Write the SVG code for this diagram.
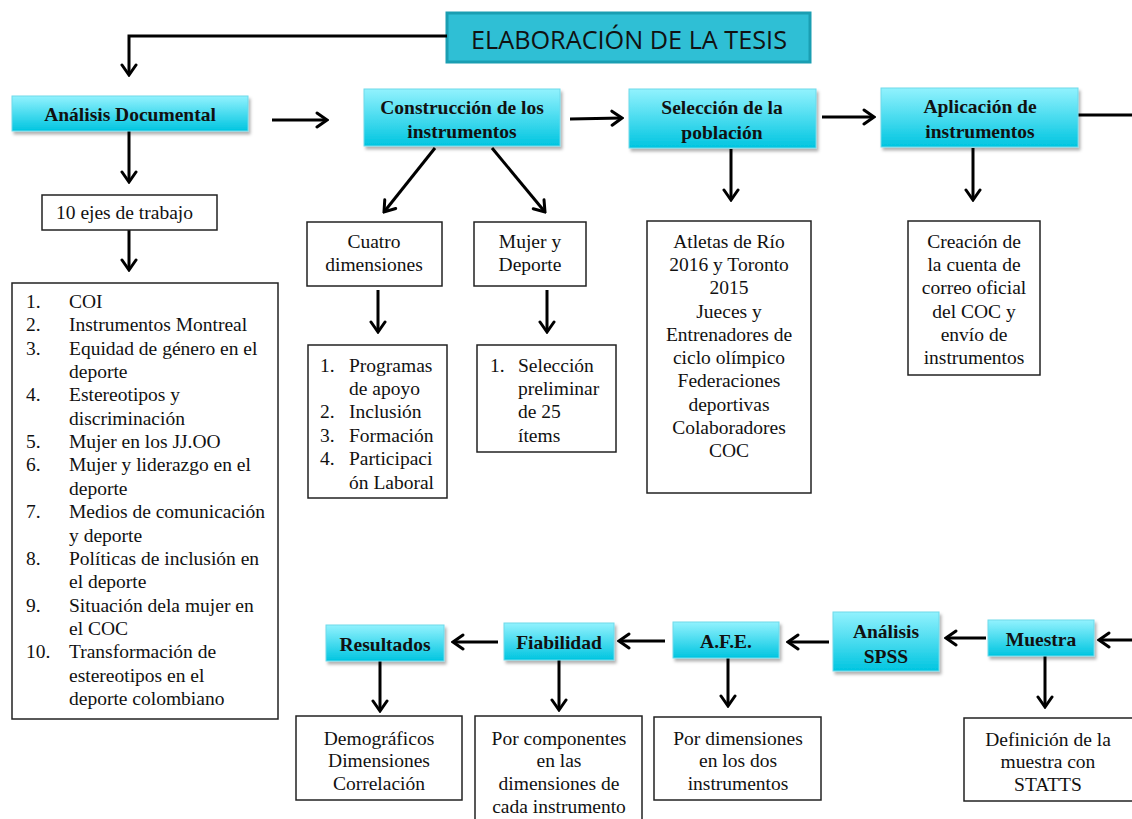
<svg xmlns="http://www.w3.org/2000/svg" width="1132" height="819" viewBox="0 0 1132 819">
<defs>
<linearGradient id="blue" x1="0" y1="0" x2="0" y2="1">
<stop offset="0" stop-color="#92f2fe"/>
<stop offset="1" stop-color="#00c5e0"/>
</linearGradient>
<filter id="sh" x="-10%" y="-20%" width="130%" height="150%">
<feDropShadow dx="2" dy="3" stdDeviation="1.5" flood-color="#000" flood-opacity="0.3"/>
</filter>
<marker id="arr" viewBox="-13 -9 15 18" refX="0" refY="0" markerWidth="15" markerHeight="18" markerUnits="userSpaceOnUse" orient="auto">
<path d="M-10,-7 L0,0 L-10,7" fill="none" stroke="#000" stroke-width="3" stroke-linecap="round" stroke-linejoin="miter"/>
</marker>
</defs>
<style>
.bn{fill:url(#blue);stroke:#6fd9ea;stroke-width:1;filter:url(#sh)}
.wb{fill:#fff;stroke:#222;stroke-width:1.5}
.bt{font-family:"Liberation Serif","Times New Roman",serif;font-weight:bold;font-size:19.5px;fill:#111;text-anchor:middle}
.t{font-family:"Liberation Serif","Times New Roman",serif;font-size:19.5px;fill:#111}
.c{text-anchor:middle}
.cn line,.cn path{stroke:#000;stroke-width:3;fill:none}
.a{marker-end:url(#arr)}
</style>
<rect width="1132" height="819" fill="#fff"/>

<g id="title">
<rect x="447" y="13" width="363" height="49" fill="#2fbfd5" stroke="#1a9eb2" stroke-width="3"/>
<text x="629" y="49" font-family="'Open Sans','Liberation Sans',sans-serif" font-size="25" fill="#111" text-anchor="middle" textLength="316" lengthAdjust="spacingAndGlyphs">ELABORACIÓN DE LA TESIS</text>
</g>

<g class="cn">
<path class="a" d="M447,36 L129,36 L129,75"/>
<line class="a" x1="272" y1="120" x2="327" y2="120"/>
<line class="a" x1="570" y1="119" x2="622" y2="118"/>
<line class="a" x1="822" y1="117" x2="874" y2="117"/>
<line x1="1078" y1="115" x2="1132" y2="115"/>
<line class="a" x1="129" y1="131" x2="129" y2="182"/>
<line class="a" x1="129" y1="230" x2="129" y2="270"/>
<line class="a" x1="435" y1="148" x2="384" y2="212"/>
<line class="a" x1="492" y1="148" x2="545" y2="212"/>
<line class="a" x1="378" y1="290" x2="378" y2="332"/>
<line class="a" x1="547" y1="290" x2="547" y2="332"/>
<line class="a" x1="731" y1="149" x2="731" y2="200"/>
<line class="a" x1="973" y1="148" x2="973" y2="200"/>
<line class="a" x1="1132" y1="640" x2="1099" y2="640"/>
<line class="a" x1="986" y1="638" x2="946" y2="638"/>
<line class="a" x1="829" y1="642" x2="788" y2="642"/>
<line class="a" x1="665" y1="641" x2="619" y2="641"/>
<line class="a" x1="498" y1="642" x2="453" y2="642"/>
<line class="a" x1="380" y1="661" x2="380" y2="711"/>
<line class="a" x1="559" y1="660" x2="559" y2="710"/>
<line class="a" x1="728" y1="658" x2="728" y2="706"/>
<line class="a" x1="1045" y1="656" x2="1045" y2="707"/>
</g>

<g id="analisis-documental">
<rect class="bn" x="12" y="96" width="236" height="35"/>
<text class="bt" x="130" y="121">Análisis Documental</text>
</g>
<g id="construccion">
<rect class="bn" x="364" y="89" width="196" height="57"/>
<text class="bt" x="462" y="114">Construcción de los</text>
<text class="bt" x="462" y="138">instrumentos</text>
</g>
<g id="seleccion">
<rect class="bn" x="629" y="89" width="187" height="59"/>
<text class="bt" x="722" y="114">Selección de la</text>
<text class="bt" x="722" y="139">población</text>
</g>
<g id="aplicacion">
<rect class="bn" x="881" y="88" width="197" height="59"/>
<text class="bt" x="980" y="113">Aplicación de</text>
<text class="bt" x="980" y="138">instrumentos</text>
</g>

<g id="ejes">
<rect class="wb" x="42" y="195" width="175" height="35"/>
<text class="t" x="56" y="219">10 ejes de trabajo</text>
</g>
<g id="lista-ejes">
<rect class="wb" x="12" y="283" width="266" height="436"/>
<g class="t">
<text x="26" y="308">1.</text><text x="69" y="308">COI</text>
<text x="26" y="331">2.</text><text x="69" y="331">Instrumentos Montreal</text>
<text x="26" y="355">3.</text><text x="69" y="355">Equidad de género en el</text>
<text x="69" y="378">deporte</text>
<text x="26" y="401">4.</text><text x="69" y="401">Estereotipos y</text>
<text x="69" y="425">discriminación</text>
<text x="26" y="448">5.</text><text x="69" y="448">Mujer en los JJ.OO</text>
<text x="26" y="471">6.</text><text x="69" y="471">Mujer y liderazgo en el</text>
<text x="69" y="495">deporte</text>
<text x="26" y="518">7.</text><text x="69" y="518">Medios de comunicación</text>
<text x="69" y="542">y deporte</text>
<text x="26" y="565">8.</text><text x="69" y="565">Políticas de inclusión en</text>
<text x="69" y="588">el deporte</text>
<text x="26" y="612">9.</text><text x="69" y="612">Situación dela mujer en</text>
<text x="69" y="635">el COC</text>
<text x="26" y="658">10.</text><text x="69" y="658">Transformación de</text>
<text x="69" y="682">estereotipos en el</text>
<text x="69" y="705">deporte colombiano</text>
</g>
</g>

<g id="cuatro-dimensiones">
<rect class="wb" x="307" y="222" width="135" height="64"/>
<text class="t c" x="374" y="248">Cuatro</text>
<text class="t c" x="374" y="271">dimensiones</text>
</g>
<g id="lista-dimensiones">
<rect class="wb" x="308" y="345" width="139" height="153"/>
<g class="t">
<text x="320" y="372">1.</text><text x="349" y="372">Programas</text>
<text x="349" y="395">de apoyo</text>
<text x="320" y="418">2.</text><text x="349" y="418">Inclusión</text>
<text x="320" y="442">3.</text><text x="349" y="442">Formación</text>
<text x="320" y="465">4.</text><text x="349" y="465">Participaci</text>
<text x="349" y="489">ón Laboral</text>
</g>
</g>
<g id="mujer-deporte">
<rect class="wb" x="474" y="222" width="112" height="64"/>
<text class="t c" x="530" y="248">Mujer y</text>
<text class="t c" x="530" y="271">Deporte</text>
</g>
<g id="seleccion-items">
<rect class="wb" x="477" y="345" width="139" height="107"/>
<g class="t">
<text x="490" y="372">1.</text><text x="518" y="372">Selección</text>
<text x="518" y="395">preliminar</text>
<text x="518" y="418">de 25</text>
<text x="518" y="442">ítems</text>
</g>
</g>

<g id="poblacion">
<rect class="wb" x="647" y="221" width="164" height="272"/>
<g class="t c">
<text x="729" y="248">Atletas de Río</text>
<text x="729" y="271">2016 y Toronto</text>
<text x="729" y="294">2015</text>
<text x="729" y="318">Jueces y</text>
<text x="729" y="341">Entrenadores de</text>
<text x="729" y="364">ciclo olímpico</text>
<text x="729" y="387">Federaciones</text>
<text x="729" y="411">deportivas</text>
<text x="729" y="434">Colaboradores</text>
<text x="729" y="457">COC</text>
</g>
</g>
<g id="correo">
<rect class="wb" x="908" y="221" width="132" height="154"/>
<g class="t c">
<text x="974" y="248">Creación de</text>
<text x="974" y="271">la cuenta de</text>
<text x="974" y="294">correo oficial</text>
<text x="974" y="318">del COC y</text>
<text x="974" y="341">envío de</text>
<text x="974" y="364">instrumentos</text>
</g>
</g>

<g id="muestra">
<rect class="bn" x="988" y="620" width="106" height="36"/>
<text class="bt" x="1041" y="646">Muestra</text>
</g>
<g id="spss">
<rect class="bn" x="833" y="612" width="106" height="59"/>
<text class="bt" x="886" y="638">Análisis</text>
<text class="bt" x="886" y="663">SPSS</text>
</g>
<g id="afe">
<rect class="bn" x="673" y="622" width="106" height="36"/>
<text class="bt" x="726" y="648">A.F.E.</text>
</g>
<g id="fiabilidad">
<rect class="bn" x="504" y="623" width="110" height="37"/>
<text class="bt" x="559" y="649">Fiabilidad</text>
</g>
<g id="resultados">
<rect class="bn" x="326" y="625" width="118" height="36"/>
<text class="bt" x="385" y="651">Resultados</text>
</g>

<g id="resultados-detalle">
<rect class="wb" x="296" y="716" width="166" height="84"/>
<g class="t c">
<text x="379" y="745">Demográficos</text>
<text x="379" y="767">Dimensiones</text>
<text x="379" y="790">Correlación</text>
</g>
</g>
<g id="fiabilidad-detalle">
<rect class="wb" x="475" y="716" width="167" height="108"/>
<g class="t c">
<text x="559" y="745">Por componentes</text>
<text x="559" y="767">en las</text>
<text x="559" y="790">dimensiones de</text>
<text x="559" y="813">cada instrumento</text>
</g>
</g>
<g id="afe-detalle">
<rect class="wb" x="654" y="717" width="167" height="83"/>
<g class="t c">
<text x="738" y="745">Por dimensiones</text>
<text x="738" y="767">en los dos</text>
<text x="738" y="790">instrumentos</text>
</g>
</g>
<g id="muestra-detalle">
<rect class="wb" x="964" y="718" width="172" height="83"/>
<g class="t c">
<text x="1048" y="746">Definición de la</text>
<text x="1048" y="768">muestra con</text>
<text x="1048" y="791">STATTS</text>
</g>
</g>
</svg>
